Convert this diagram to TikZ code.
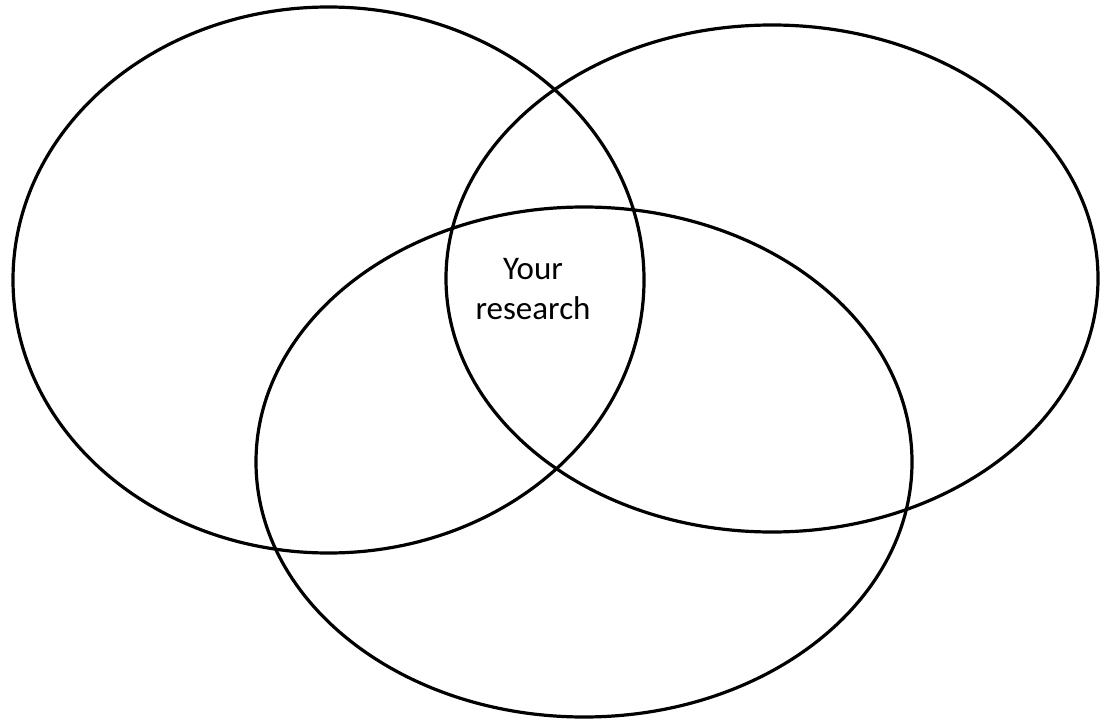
\documentclass[tikz,border=0pt]{standalone}
\usepackage{fontspec}
\setmainfont{Carlito}
\begin{document}
\begin{tikzpicture}[x=1pt,y=-1pt,
  venn/.style={draw=black,line width=3.2pt}]
\useasboundingbox (0,0) rectangle (1102,719);
\draw[venn] (328.5,280) ellipse [x radius=315.5, y radius=273];
\draw[venn] (772,278.5) ellipse [x radius=326, y radius=253.5];
\draw[venn] (584,462) ellipse [x radius=328, y radius=255];
\node[font=\fontsize{33}{40}\selectfont, align=center, inner sep=0pt] (t) at (533,289) {Your\\research};
\end{tikzpicture}
\end{document}
